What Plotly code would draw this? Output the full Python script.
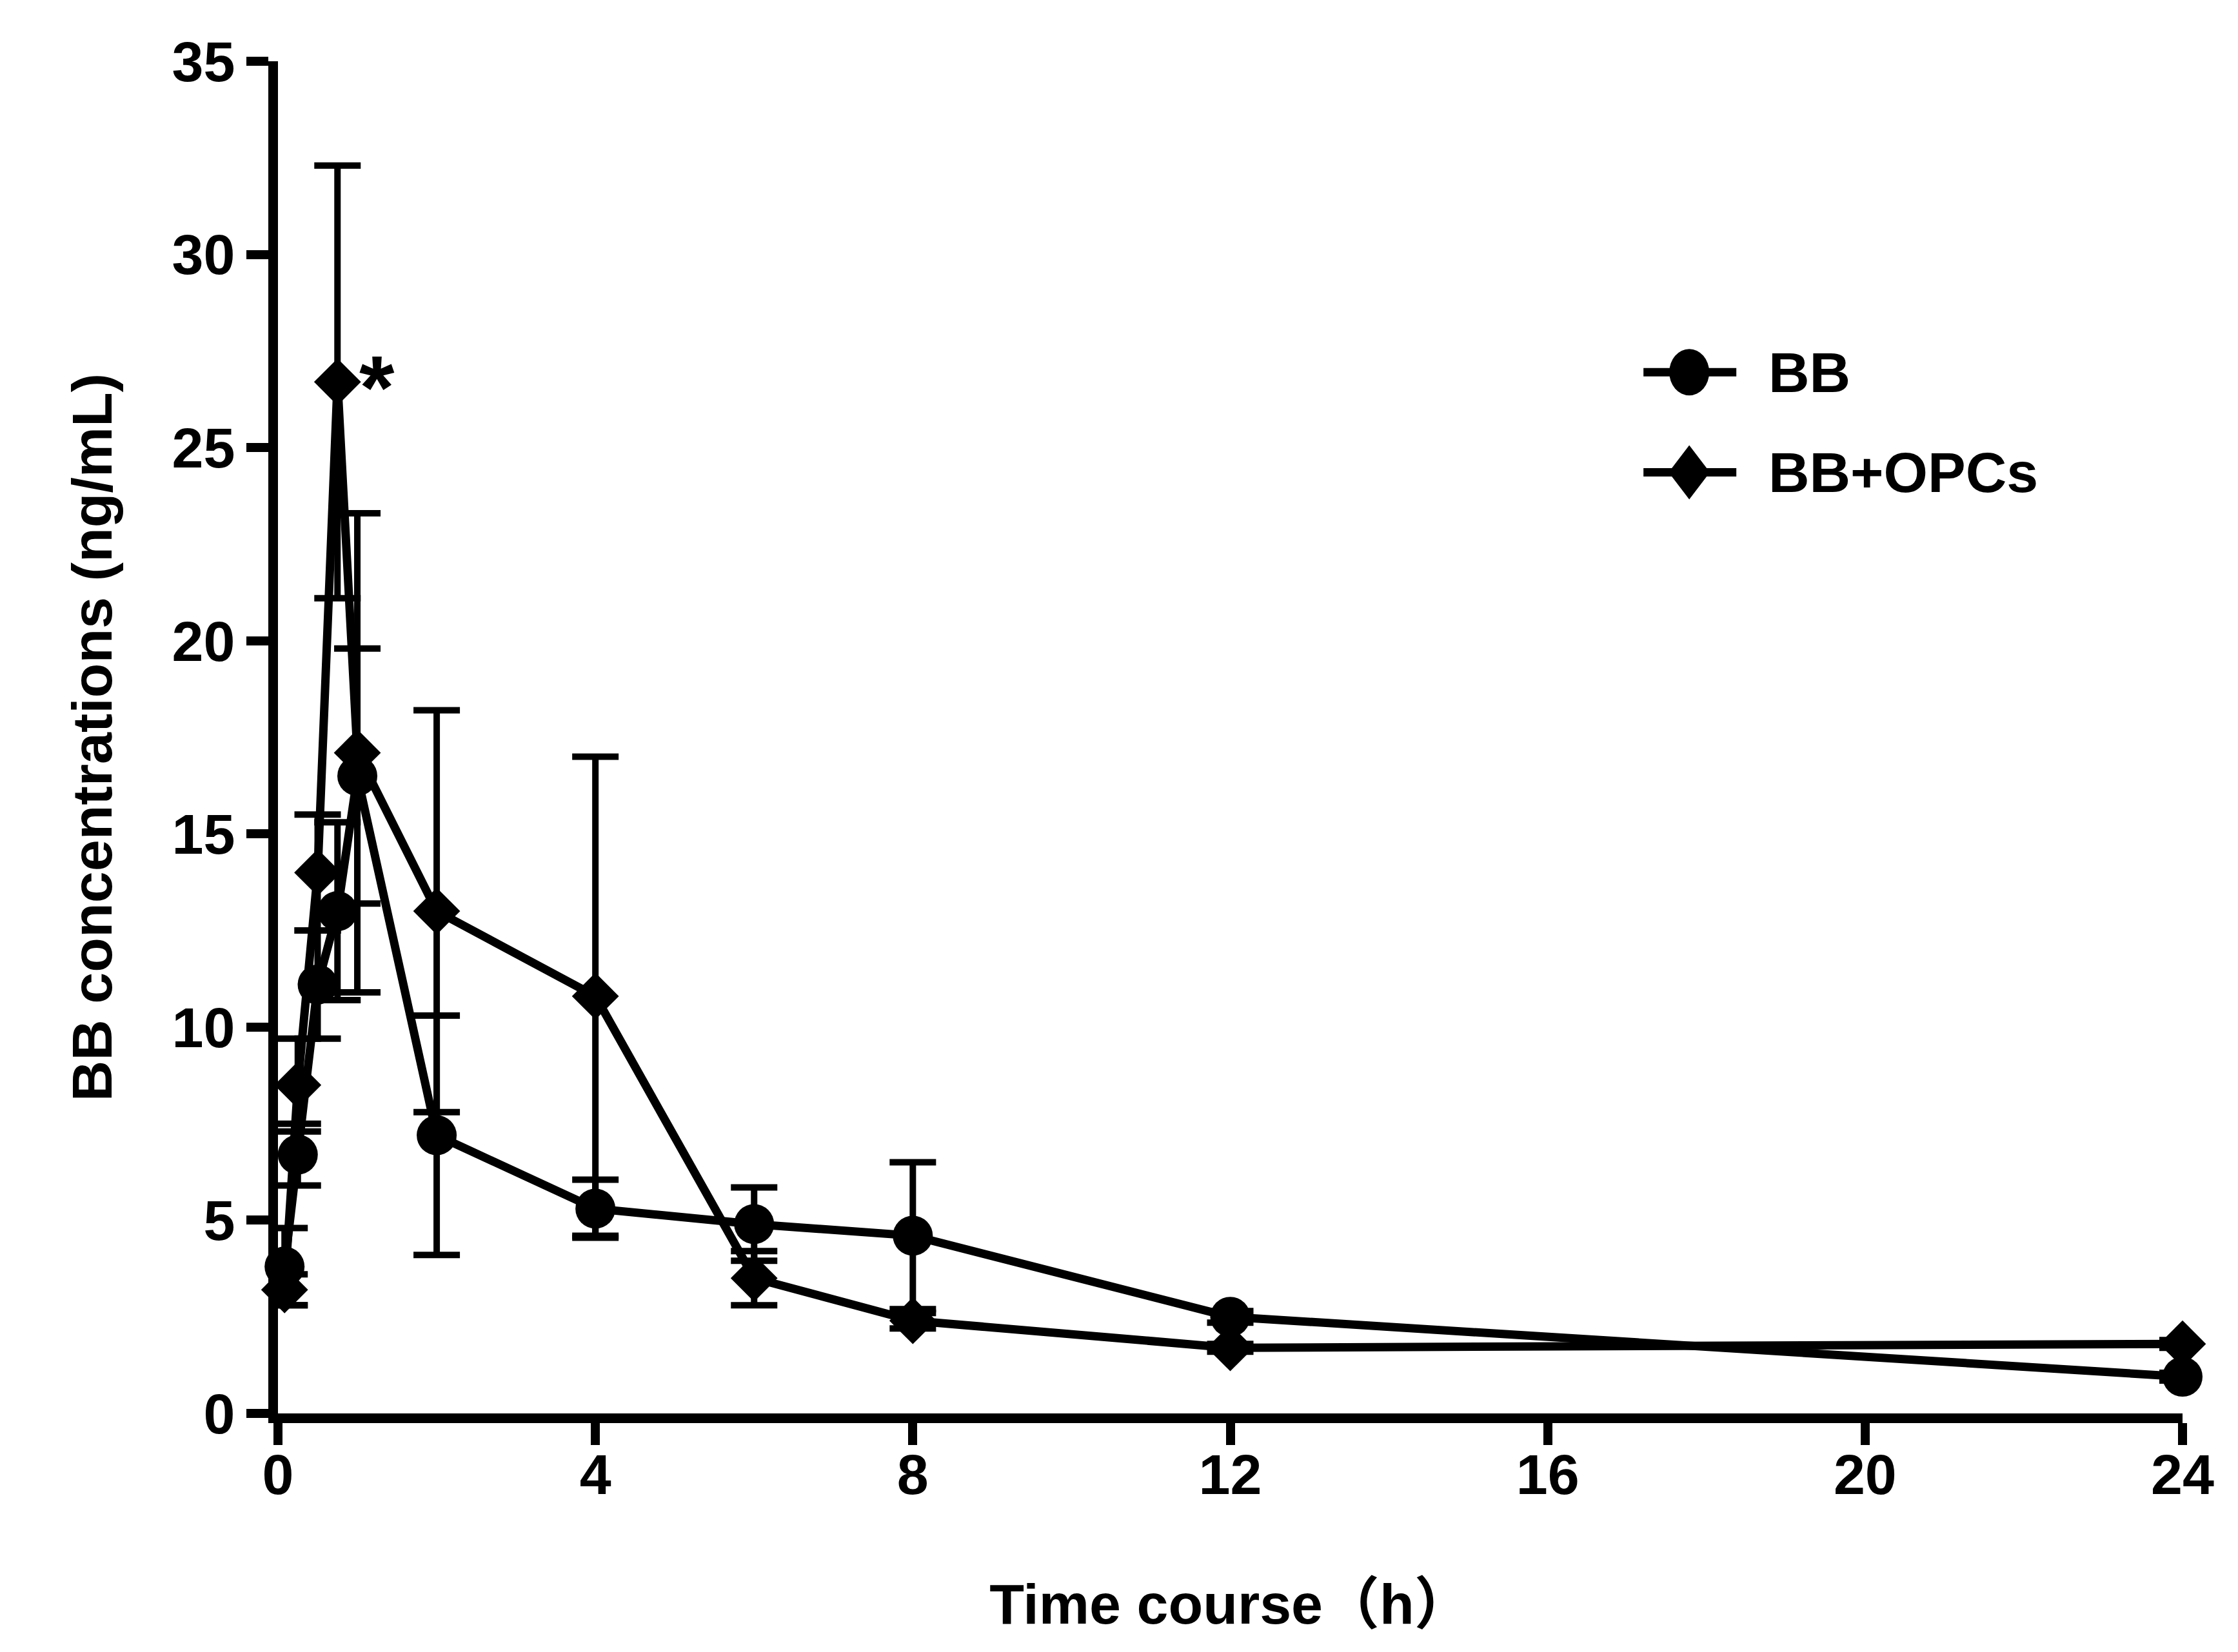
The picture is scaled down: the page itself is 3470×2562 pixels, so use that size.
import plotly.graph_objects as go

# sampling times (h) and mean +/- SD concentrations (ng/mL)
time_h = [0.083, 0.25, 0.5, 0.75, 1, 2, 4, 6, 8, 12, 24]
bb_mean = [3.8, 6.7, 11.1, 13.0, 16.5, 7.2, 5.3, 4.9, 4.6, 2.5, 0.95]
bb_sd = [1.0, 0.8, 1.4, 2.3, 3.3, 3.1, 0.75, 0.95, 1.9, 0.15, 0.1]
opc_mean = [3.2, 8.5, 14.0, 26.7, 17.1, 13.0, 10.8, 3.5, 2.4, 1.7, 1.8]
opc_sd = [0.4, 1.2, 1.5, 5.6, 6.2, 5.2, 6.2, 0.7, 0.2, 0.1, 0.1]
x_ticks = [0, 4, 8, 12, 16, 20, 24]
y_ticks = [0, 5, 10, 15, 20, 25, 30, 35]
series_names = ["BB", "BB+OPCs"]

font_fam = "Liberation Sans, Arial, Noto Sans CJK SC"
fsize = 88

fig = go.Figure()
fig.add_trace(go.Scatter(
    x=time_h, y=bb_mean, name=series_names[0], mode="lines+markers",
    line=dict(color="black", width=13),
    marker=dict(symbol="circle", size=62, color="black"),
    error_y=dict(type="data", array=bb_sd, visible=True, color="black", thickness=10, width=36),
    cliponaxis=False,
))
fig.add_trace(go.Scatter(
    x=time_h, y=opc_mean, name=series_names[1], mode="lines+markers",
    line=dict(color="black", width=13),
    marker=dict(symbol="diamond", size=56, color="black"),
    error_y=dict(type="data", array=opc_sd, visible=True, color="black", thickness=10, width=36),
    cliponaxis=False,
))

# significance mark next to the 0.75 h peak
fig.add_annotation(x=1.25, y=opc_mean[3], text="*", showarrow=False, xanchor="center", yanchor="middle",
                   yshift=-8, font=dict(family=font_fam, size=140, color="black", weight="bold"))

# hand-drawn legend (plotly caps legend marker size)
leg_x = 0.741
leg_y = [0.770, 0.696]
shapes = []
for ly in leg_y:
    shapes.append(dict(type="line", xref="paper", yref="paper", xsizemode="pixel", ysizemode="pixel",
                       xanchor=leg_x, yanchor=ly, x0=-71, x1=73, y0=0, y1=0,
                       line=dict(color="black", width=13)))
shapes.append(dict(type="circle", xref="paper", yref="paper", xsizemode="pixel", ysizemode="pixel",
                   xanchor=leg_x, yanchor=leg_y[0], x0=-31, x1=31, y0=-36, y1=36,
                   fillcolor="black", line=dict(width=0)))
shapes.append(dict(type="path", xref="paper", yref="paper", xsizemode="pixel", ysizemode="pixel",
                   xanchor=leg_x, yanchor=leg_y[1], path="M -32 0 L 0 42 L 32 0 L 0 -42 Z",
                   fillcolor="black", line=dict(width=0)))
for ly, nm in zip(leg_y, series_names):
    fig.add_annotation(xref="paper", yref="paper", x=0.782, y=ly, text=nm, showarrow=False,
                       xanchor="left", yanchor="middle",
                       font=dict(family=font_fam, size=fsize, color="black", weight="bold"))

axis_common = dict(showgrid=False, zeroline=False, showline=True, linecolor="black", linewidth=15,
                   ticks="outside", ticklen=34, tickwidth=14, tickcolor="black",
                   tickfont=dict(family=font_fam, size=fsize, color="black", weight="bold"))

fig.update_layout(
    width=3470, height=2562,
    margin=dict(l=423, r=94, t=87, b=378),
    plot_bgcolor="white", paper_bgcolor="white",
    showlegend=False,
    shapes=shapes,
    xaxis=dict(range=[0, 24], tickvals=x_ticks, ticklabelstandoff=-30,
               title=dict(text="Time course（h）", standoff=128,
                          font=dict(family=font_fam, size=fsize, color="black", weight="bold")),
               **axis_common),
    yaxis=dict(range=[0, 35], tickvals=y_ticks,
               title=dict(text="BB concentrations (ng/mL)", standoff=70,
                          font=dict(family=font_fam, size=fsize, color="black", weight="bold")),
               **axis_common),
)

fig.write_html("out.html")
